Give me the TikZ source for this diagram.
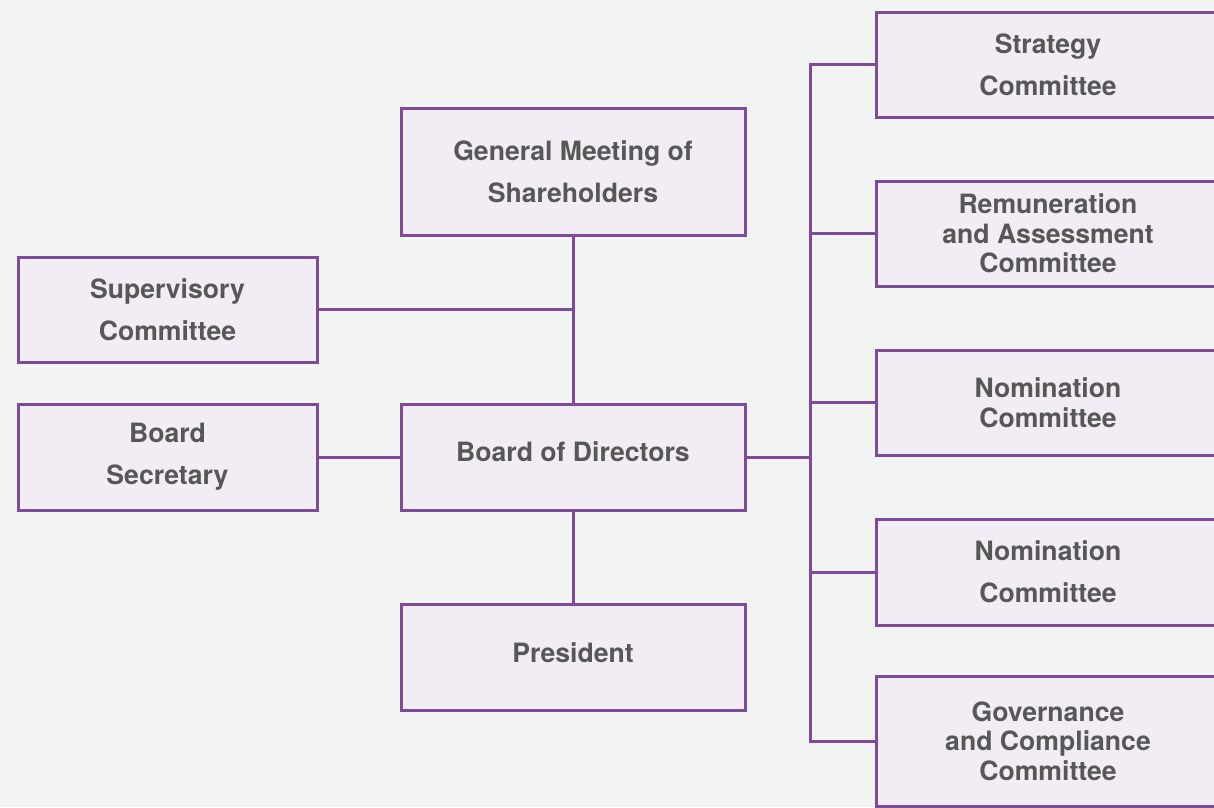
\documentclass[tikz,border=0pt]{standalone}
\usepackage{fontspec}
\setmainfont{TeX Gyre Heros}
\definecolor{bgc}{HTML}{F2F3F3}
\definecolor{boxfill}{HTML}{F2ECF4}
\definecolor{boxline}{HTML}{7E4B9A}
\definecolor{txt}{HTML}{575757}
\begin{document}
\begin{tikzpicture}[x=1pt,y=-1pt,
  orgbox/.style={draw=boxline, fill=boxfill, line width=3pt, inner sep=0pt,
    text=txt, align=center, font=\fontsize{26.6}{42}\selectfont\bfseries},
  tight/.style={font=\fontsize{26.6}{29.5}\selectfont\bfseries},
  single/.style={text height=19pt, text depth=10pt},
  conn/.style={draw=boxline, line width=3pt}]
\fill[bgc] (0,0) rectangle (1214,807);
\useasboundingbox (0,0) rectangle (1214,807);
% center column
\node[orgbox, minimum width=344pt, minimum height=127pt] (gm) at (573,171.5) {General Meeting of\\Shareholders};
\node[orgbox, single, minimum width=344pt, minimum height=106pt] (board) at (573,457) {Board of Directors};
\node[orgbox, single, minimum width=344pt, minimum height=106pt] (pres) at (573,657.5) {President};
% left column
\node[orgbox, minimum width=299pt, minimum height=105pt] (sup) at (167.5,309.5) {Supervisory\\Committee};
\node[orgbox, minimum width=299pt, minimum height=106pt] (sec) at (167.5,457) {Board\\Secretary};
% right column
\node[orgbox, minimum width=344pt, minimum height=105pt] (strat) at (1048,64.5) {Strategy\\Committee};
\node[orgbox, tight, minimum width=344pt, minimum height=105pt] (rem) at (1048,233.5) {Remuneration\\and Assessment\\Committee};
\node[orgbox, tight, minimum width=344pt, minimum height=105pt] (nom) at (1048,402.5) {Nomination\\Committee};
\node[orgbox, minimum width=344pt, minimum height=106pt] (nomb) at (1048,572) {Nomination\\Committee};
\node[orgbox, tight, minimum width=344pt, minimum height=130pt] (gov) at (1048,741) {Governance\\and Compliance\\Committee};
\coordinate (bus) at (810,457);
% connectors
\draw[conn] (gm.south) -- (board.north);
\draw[conn] (sup.east) -- (sup.east -| gm.south);
\draw[conn] (sec.east) -- (board.west);
\draw[conn] (board.south) -- (pres.north);
\draw[conn] (board.east) -- (bus);
\draw[conn] (strat.west) -- (strat.west -| bus) -- (gov.west -| bus) -- (gov.west);
\draw[conn] (rem.west) -- (rem.west -| bus);
\draw[conn] (nom.west) -- (nom.west -| bus);
\draw[conn] (nomb.west) -- (nomb.west -| bus);
\end{tikzpicture}
\end{document}
